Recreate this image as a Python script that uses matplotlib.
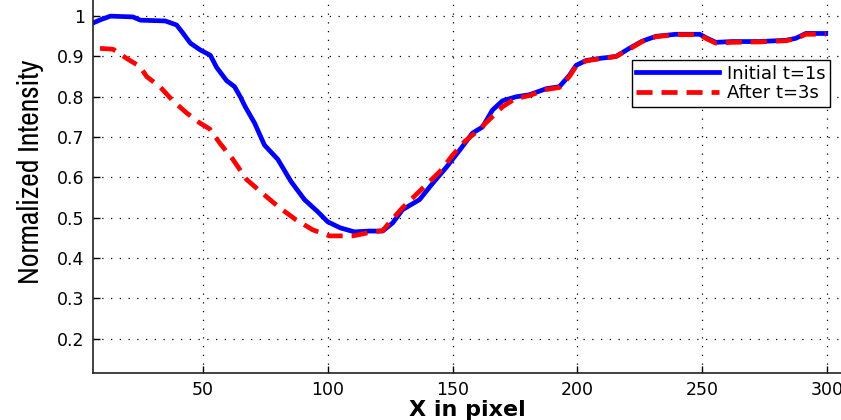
import numpy as np
import matplotlib
matplotlib.use('Agg')
import matplotlib.pyplot as plt
from matplotlib import font_manager

# intensity profiles
x_initial = [6, 9, 13, 22, 25, 35, 39.5, 42, 45, 49, 53, 55.5, 59.5, 62.7, 65, 67, 70.7, 74.7, 80, 85.3,
             90.7, 96, 100, 105, 110.7, 116.8, 122, 126, 130, 136.8, 142, 147.5, 152.8, 158, 162, 166, 170, 175.5,
             180.8, 187.5, 192.8, 196.8, 199.5, 203.5, 208.8, 215.5, 220.8, 226, 231.5, 239.5, 249, 252, 255.5,
             262, 272.8, 283.5, 287.5, 291.5, 299.5]
y_initial = [0.983, 0.991, 1.0, 0.998, 0.99, 0.988, 0.978, 0.958, 0.933, 0.916, 0.903, 0.873, 0.84, 0.825, 0.8,
             0.775, 0.735, 0.68, 0.645, 0.59, 0.545, 0.515, 0.49, 0.475, 0.465, 0.467, 0.467, 0.487, 0.52, 0.545,
             0.585, 0.625, 0.667, 0.71, 0.725, 0.767, 0.79, 0.8, 0.805, 0.82, 0.825, 0.853, 0.878, 0.89, 0.895,
             0.9, 0.92, 0.938, 0.95, 0.955, 0.955, 0.945, 0.935, 0.937, 0.937, 0.94, 0.945, 0.957, 0.957]

x_after = [8.8, 14, 19.5, 24.8, 27.5, 32.8, 38, 43.5, 48.8, 52.8, 56.8, 62, 67.5, 74, 80.7, 87.3, 94, 100.7,
           110, 118, 122, 125, 130, 135, 140, 145, 150, 155, 160, 165, 170, 175, 180.8, 187.5, 192.8, 196.8,
           199.5, 203.5, 208.8, 215.5, 220.8, 226, 231.5, 239.5, 249, 252, 255.5, 262, 272.8, 283.5, 287.5,
           291.5, 299.5]
y_after = [0.92, 0.918, 0.895, 0.875, 0.85, 0.825, 0.79, 0.76, 0.735, 0.72, 0.685, 0.645, 0.595, 0.56, 0.525,
           0.495, 0.47, 0.455, 0.455, 0.465, 0.468, 0.49, 0.525, 0.555, 0.585, 0.615, 0.655, 0.69, 0.715, 0.745,
           0.775, 0.795, 0.803, 0.818, 0.823, 0.85, 0.876, 0.889, 0.894, 0.9, 0.918, 0.937, 0.949, 0.954, 0.954,
           0.943, 0.933, 0.935, 0.936, 0.939, 0.944, 0.955, 0.955]

xticks = [50, 100, 150, 200, 250, 300]
yticks = [0.2, 0.3, 0.4, 0.5, 0.6, 0.7, 0.8, 0.9, 1.0]
ytick_labels = ['0.2', '0.3', '0.4', '0.5', '0.6', '0.7', '0.8', '0.9', '1']

# look for a narrow face for the y label (reference one is squeezed)
installed = sorted({f.name for f in font_manager.fontManager.ttflist})
narrow = None
for name in installed:
    if 'Narrow' in name or 'Condensed' in name:
        narrow = name
        break

plt.rcParams['font.family'] = ['DejaVu Sans']

fig = plt.figure(figsize=(8.41, 4.2), dpi=100)
ax = fig.add_axes([93 / 841, 1 - 373 / 420, 748 / 841, 373 / 420])

ax.plot(x_initial, y_initial, color=(0, 0, 1), lw=3.4, label='Initial t=1s')
ax.plot(x_after, y_after, color=(1, 0, 0), lw=3.4, dashes=(3.4, 1.9), label='After t=3s')

ax.set_xlim(6, 305.6)
ax.set_ylim(0.115, 1.04)
ax.set_xticks(xticks)
ax.set_yticks(yticks)
ax.set_yticklabels(ytick_labels)

ax.grid(True, color='black', linestyle=(0, (1, 6)), lw=0.9)
ax.tick_params(direction='in', length=5, width=1, labelsize=12.5, pad=6)
for s in ['top', 'right']:
    ax.spines[s].set_visible(False)
for s in ['left', 'bottom']:
    ax.spines[s].set_linewidth(1.2)
    ax.spines[s].set_color('#222222')

ax.set_xlabel('X in pixel', fontsize=16, fontweight='bold')
ax.xaxis.set_label_coords(0.5, -0.072)
if narrow:
    ax.set_ylabel('Normalized Intensity', fontsize=21.5, family=[narrow, 'DejaVu Sans'])
else:
    ax.set_ylabel('Normalized Intensity', fontsize=16)
ax.yaxis.set_label_coords(-0.066, 0.54)

leg = ax.legend(loc='upper right', bbox_to_anchor=(0.985, 0.839), borderaxespad=0, fontsize=13,
                fancybox=False, framealpha=1, edgecolor='black', handlelength=4.6, handletextpad=0.4,
                labelspacing=0.1, borderpad=0.25)
leg.get_frame().set_linewidth(1.0)

fig.savefig('out.png', dpi=100)
